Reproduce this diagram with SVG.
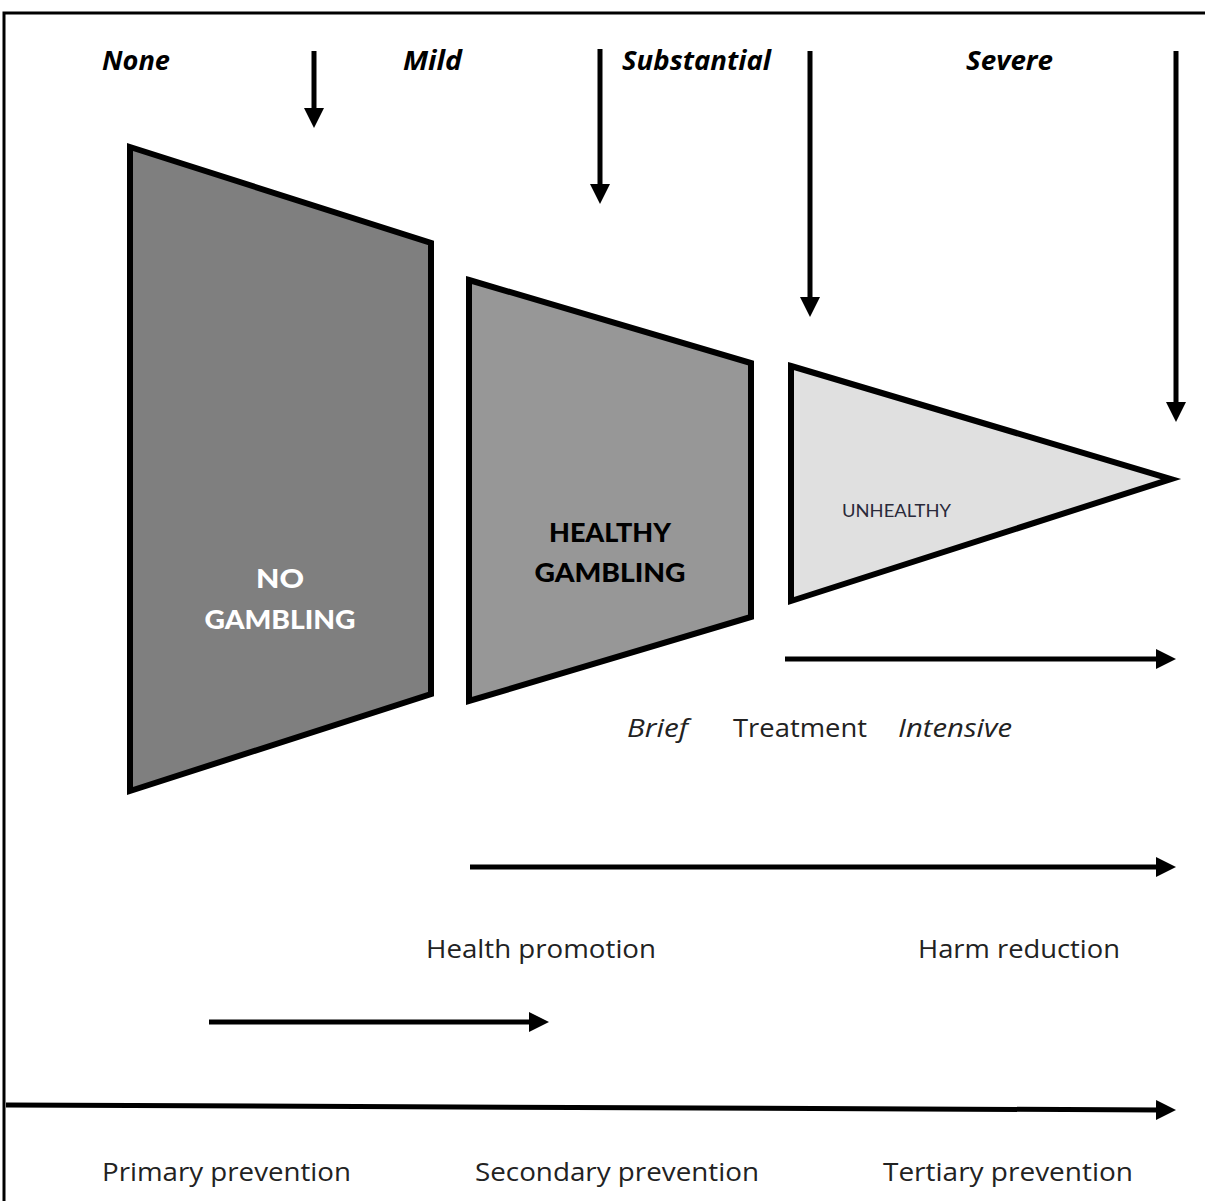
<svg xmlns="http://www.w3.org/2000/svg" width="1205" height="1201" viewBox="0 0 1205 1201">
<style>
.frame{stroke:#000;stroke-width:3;fill:none}
.shape{stroke:#000;stroke-width:6;stroke-linejoin:miter}
.conn{stroke:#000;stroke-width:5;fill:none}
.sev{font-family:"Open Sans","Liberation Sans",sans-serif;font-weight:bold;font-style:italic;font-size:26px;fill:#000}
.big{font-family:Lato,"DejaVu Sans",sans-serif;font-weight:900;font-size:26px;text-anchor:middle}
.lab{font-family:"Open Sans","Liberation Sans",sans-serif;font-size:26px;fill:#222}
.it{font-style:italic}
</style>
<defs>
<marker id="ah" markerWidth="5" markerHeight="5" refX="1" refY="2" orient="auto" markerUnits="strokeWidth">
<path d="M0,0 L4,2 L0,4 Z" fill="#000"/>
</marker>
</defs>
<rect width="1205" height="1201" fill="#fff"/>
<path class="frame" d="M4,1201 V13 H1205"/>
<g id="severity-labels">
<text class="sev" x="102" y="70" textLength="68" lengthAdjust="spacingAndGlyphs">None</text>
<text class="sev" x="403" y="70" textLength="59" lengthAdjust="spacingAndGlyphs">Mild</text>
<text class="sev" x="622" y="70" textLength="149" lengthAdjust="spacingAndGlyphs">Substantial</text>
<text class="sev" x="966" y="70" textLength="87" lengthAdjust="spacingAndGlyphs">Severe</text>
</g>
<g id="no-gambling">
<polygon class="shape" points="130,147 431,243 431,694 130,791" fill="#7f7f7f"/>
<text class="big" x="280" y="588" fill="#fff" textLength="48" lengthAdjust="spacingAndGlyphs">NO</text>
<text class="big" x="280" y="629" fill="#fff" textLength="151" lengthAdjust="spacingAndGlyphs">GAMBLING</text>
</g>
<g id="healthy-gambling">
<polygon class="shape" points="469,280 751,363 751,617 469,701" fill="#979797"/>
<text class="big" x="610" y="542" fill="#000" textLength="122" lengthAdjust="spacingAndGlyphs">HEALTHY</text>
<text class="big" x="610" y="582" fill="#000" textLength="151" lengthAdjust="spacingAndGlyphs">GAMBLING</text>
</g>
<g id="unhealthy">
<polygon class="shape" points="791,366 1171,479 791,601" fill="#e0e0e0"/>
<text x="842" y="517" font-family="Lato,'Liberation Sans',sans-serif" font-size="18" fill="#2a2a3a" textLength="109" lengthAdjust="spacingAndGlyphs">UNHEALTHY</text>
</g>
<g id="connectors">
<line class="conn" x1="314" y1="51" x2="314" y2="113" marker-end="url(#ah)"/>
<line class="conn" x1="600" y1="49" x2="600" y2="189" marker-end="url(#ah)"/>
<line class="conn" x1="810" y1="51" x2="810" y2="302" marker-end="url(#ah)"/>
<line class="conn" x1="1176" y1="51" x2="1176" y2="407" marker-end="url(#ah)"/>
<line class="conn" x1="785" y1="659" x2="1161" y2="659" marker-end="url(#ah)"/>
<line class="conn" x1="470" y1="867" x2="1161" y2="867" marker-end="url(#ah)"/>
<line class="conn" x1="209" y1="1022" x2="534" y2="1022" marker-end="url(#ah)"/>
<line class="conn" x1="6" y1="1105" x2="1161" y2="1110" marker-end="url(#ah)"/>
</g>
<g id="treatment-labels">
<text class="lab it" x="627" y="737" textLength="61" lengthAdjust="spacingAndGlyphs">Brief</text>
<text class="lab" x="733" y="737" textLength="134" lengthAdjust="spacingAndGlyphs">Treatment</text>
<text class="lab it" x="898" y="737" textLength="114" lengthAdjust="spacingAndGlyphs">Intensive</text>
</g>
<g id="approach-labels">
<text class="lab" x="426" y="958" textLength="230" lengthAdjust="spacingAndGlyphs">Health promotion</text>
<text class="lab" x="918" y="958" textLength="202" lengthAdjust="spacingAndGlyphs">Harm reduction</text>
</g>
<g id="prevention-labels">
<text class="lab" x="102" y="1181" textLength="249" lengthAdjust="spacingAndGlyphs">Primary prevention</text>
<text class="lab" x="475" y="1181" textLength="284" lengthAdjust="spacingAndGlyphs">Secondary prevention</text>
<text class="lab" x="883" y="1181" textLength="250" lengthAdjust="spacingAndGlyphs">Tertiary prevention</text>
</g>
</svg>
